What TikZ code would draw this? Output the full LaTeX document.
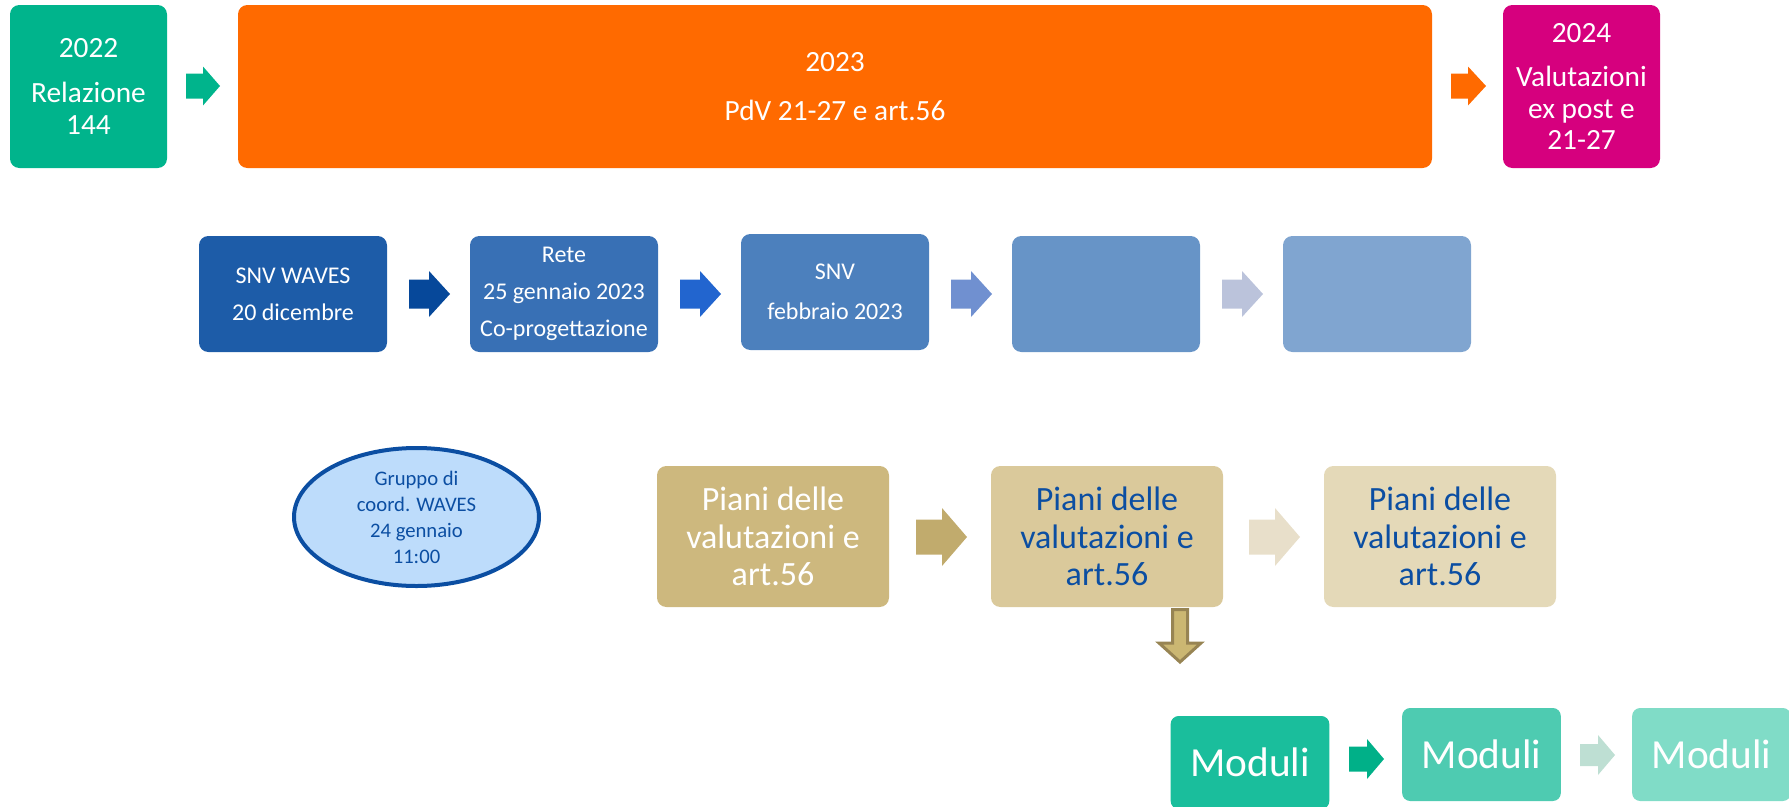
\documentclass[tikz,border=0pt]{standalone}
\usepackage{fontspec}
\setmainfont{Carlito}
\usetikzlibrary{shapes.geometric}
\definecolor{cGreen}{HTML}{00B48C}
\definecolor{cOrange}{HTML}{FF6A00}
\definecolor{cMag}{HTML}{D6007E}
\definecolor{cBa}{HTML}{1D5CA8}
\definecolor{cBb}{HTML}{3870B5}
\definecolor{cBc}{HTML}{4C80BD}
\definecolor{cBd}{HTML}{6794C7}
\definecolor{cBe}{HTML}{80A5D0}
\definecolor{cBAa}{HTML}{06489A}
\definecolor{cBAb}{HTML}{2265CF}
\definecolor{cBAc}{HTML}{7090D0}
\definecolor{cBAd}{HTML}{BBC3DB}
\definecolor{cPa}{HTML}{CDB87E}
\definecolor{cPb}{HTML}{DAC99B}
\definecolor{cPc}{HTML}{E4D9B8}
\definecolor{cPAa}{HTML}{C1AB6D}
\definecolor{cPAb}{HTML}{E8DFCA}
\definecolor{cDown}{HTML}{CBB772}
\definecolor{cDownB}{HTML}{978453}
\definecolor{cTxt}{HTML}{0B4EA2}
\definecolor{cEll}{HTML}{BDDCFB}
\definecolor{cMa}{HTML}{1ABE9C}
\definecolor{cMb}{HTML}{4ECBB1}
\definecolor{cMc}{HTML}{80DCC7}
\definecolor{cMAa}{HTML}{00B088}
\definecolor{cMAb}{HTML}{BEDFD3}
\newcommand{\blockarrow}[7]{\fill[#7] (#1,#4-#5) -- (#2,#4-#5) -- (#2,#4-#6) -- (#3,#4) -- (#2,#4+#6) -- (#2,#4+#5) -- (#1,#4+#5) -- cycle;}
\begin{document}
\begin{tikzpicture}[x=0.75pt,y=-0.75pt,
  rbox/.style={rectangle, rounded corners=7pt, inner sep=0pt, align=center, text=white},
  topfont/.style={font=\fontsize{22}{23.6}\selectfont},
  midfont/.style={font=\fontsize{18}{28}\selectfont},
  pfont/.style={font=\fontsize{25.5}{28}\selectfont},
  mfont/.style={font=\fontsize{31}{36}\selectfont},
  topbox/.style={rbox, topfont, minimum height=122.25pt},
  midbox/.style={rbox, midfont, minimum width=141pt, minimum height=87pt},
  pbox/.style={rbox, pfont, minimum width=174pt, minimum height=105.75pt},
  mbox/.style={rbox, mfont, rounded corners=6pt, minimum width=119pt, minimum height=69.75pt}]
\useasboundingbox (0,0) rectangle (1789,807);
% Row 1
\node[topbox, fill=cGreen, minimum width=117.75pt] (y22) at (88.5,86.5) {2022\\[10pt]Relazione\\144};
\node[topbox, fill=cOrange, minimum width=895.5pt] (y23) at (835,86.5) {2023\\[13pt]PdV 21-27 e art.56};
\node[topbox, fill=cMag, minimum width=117.75pt] (y24) at (1581.5,86.5) {2024\\[10pt]Valutazioni\\ex post e\\21-27};
\blockarrow{186}{203}{220}{86}{12.5}{19.5}{cGreen}
\blockarrow{1451}{1468}{1486}{86}{12.5}{19.5}{cOrange}
% Row 2
\node[midbox, fill=cBa] (s1) at (293,294) {SNV WAVES\\20 dicembre};
\node[midbox, fill=cBb] (s2) at (564,294) {Rete\\25 gennaio 2023\\Co-progettazione};
\node[midbox, fill=cBc] (s3) at (835,292) {SNV\\[2pt]febbraio 2023};
\node[midbox, fill=cBd] (s4) at (1106,294) {};
\node[midbox, fill=cBe] (s5) at (1377,294) {};
\blockarrow{409}{429}{450}{294}{14.5}{23}{cBAa}
\blockarrow{680}{700}{721}{294}{14.5}{23}{cBAb}
\blockarrow{951}{971}{992}{294}{14.5}{23}{cBAc}
\blockarrow{1222}{1242}{1263}{294}{14.5}{23}{cBAd}
% Ellipse
\node[ellipse, draw=cTxt, line width=3pt, fill=cEll, inner sep=0pt, minimum width=183.75pt, minimum height=103.5pt, align=center, text=cTxt, font=\fontsize{15.5}{19.5}\selectfont] (grp) at (416.5,517) {Gruppo di\\coord. WAVES\\24 gennaio\\11:00};
% Row 3
\node[pbox, fill=cPa] (p1) at (773,536.5) {Piani delle\\valutazioni e\\art.56};
\node[pbox, fill=cPb, text=cTxt] (p2) at (1107,536.5) {Piani delle\\valutazioni e\\art.56};
\node[pbox, fill=cPc, text=cTxt] (p3) at (1440,536.5) {Piani delle\\valutazioni e\\art.56};
\blockarrow{916}{942}{967}{537}{17.5}{29}{cPAa}
\blockarrow{1249}{1275}{1300}{537}{17.5}{29}{cPAb}
\filldraw[fill=cDown, draw=cDownB, line width=2.25pt, line join=miter]
  (1172.5,609.5) -- (1187.5,609.5) -- (1187.5,643) -- (1201,643) -- (1180,662) -- (1159,643) -- (1172.5,643) -- cycle;
% Row 4
\node[mbox, fill=cMa] (m1) at (1250,762.5) {Moduli};
\node[mbox, fill=cMb] (m2) at (1481.5,754.5) {Moduli};
\node[mbox, fill=cMc] (m3) at (1711.5,754.5) {Moduli};
\blockarrow{1349}{1367}{1384}{759}{12.5}{20}{cMAa}
\blockarrow{1580}{1598}{1615}{755}{11}{20}{cMAb}
\end{tikzpicture}
\end{document}
